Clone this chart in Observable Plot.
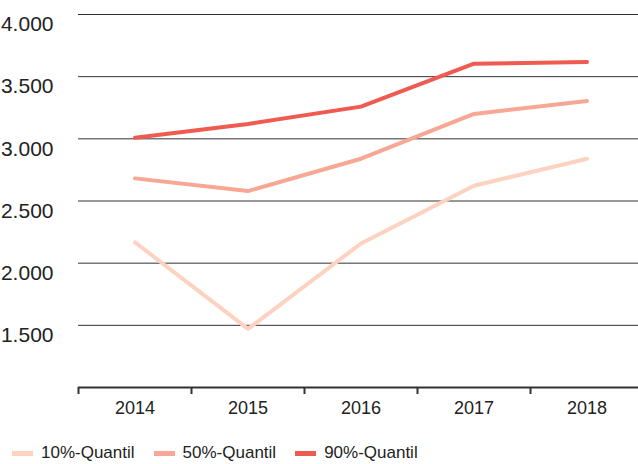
<!DOCTYPE html>
<html>
<head>
<meta charset="utf-8">
<script src="https://cdn.jsdelivr.net/npm/d3@7"></script>
<script src="https://cdn.jsdelivr.net/npm/@observablehq/plot@0.6"></script>
<style>
  html, body { margin: 0; padding: 0; background: #fff; }
  body { width: 638px; height: 464px; overflow: hidden; font-family: "Liberation Sans", Arial, sans-serif; }
  #legend { display: flex; align-items: center; margin-top: 11px; padding-left: 12px; height: 24px; font-size: 17px; color: #222; }
  .item { display: flex; align-items: center; margin-right: 19px; }
  .sw { display: inline-block; width: 21px; height: 5px; margin-right: 8px; }
</style>
</head>
<body>
<div id="chart"></div>
<div id="legend"></div>
<script>
const years = [2014, 2015, 2016, 2017, 2018];
const seriesNames = ["10%-Quantil", "50%-Quantil", "90%-Quantil"];
const seriesColors = ["#fdd2c0", "#f8a794", "#ef5b50"];
const q10 = [2168, 1471, 2158, 2623, 2840];
const q50 = [2682, 2580, 2840, 3200, 3305];
const q90 = [3008, 3120, 3259, 3604, 3618];
const yTicks = [1500, 2000, 2500, 3000, 3500, 4000];

const seriesValues = [q10, q50, q90];
const data = [];
seriesNames.forEach((s, i) => years.forEach((yr, j) => data.push({series: s, year: yr, value: seriesValues[i][j]})));

const de = d3.formatLocale({decimal: ",", thousands: ".", grouping: [3], currency: ["", "€"]});
const fmt = de.format(",");

const chart = Plot.plot({
  width: 638,
  height: 430,
  marginLeft: 78,
  marginRight: 0,
  marginTop: 14,
  marginBottom: 43,
  style: {fontFamily: "'Liberation Sans', Arial, sans-serif", background: "#fff", color: "#222"},
  x: {type: "band", domain: years, range: [78, 643], padding: 0, label: null},
  y: {domain: [1000, 4000], label: null},
  color: {domain: seriesNames, range: seriesColors},
  marks: [
    Plot.ruleY(yTicks, {stroke: "#333", strokeWidth: 1}),
    Plot.axisY(yTicks, {tickSize: 0, tickPadding: 25, dy: 10, fontSize: 21, tickFormat: fmt, fill: "#222"}),
    Plot.ruleY([1000], {stroke: "#333", strokeWidth: 2}),
    Plot.axisX({tickSize: 7, tickFormat: () => "", dx: -56.5, stroke: "#333", strokeWidth: 2}),
    Plot.axisX({tickSize: 0, tickPadding: 14, fontSize: 18, fill: "#222", tickFormat: d => String(d)}),
    Plot.lineY(data, {x: "year", y: "value", z: "series", stroke: "series", strokeWidth: 4, strokeLinecap: "round", strokeLinejoin: "miter"})
  ]
});
document.getElementById("chart").appendChild(chart);

const legend = document.getElementById("legend");
seriesNames.forEach((s, i) => {
  const item = document.createElement("div");
  item.className = "item";
  const sw = document.createElement("span");
  sw.className = "sw";
  sw.style.background = seriesColors[i];
  const t = document.createElement("span");
  t.textContent = s;
  item.appendChild(sw);
  item.appendChild(t);
  legend.appendChild(item);
});
</script>
</body>
</html>
